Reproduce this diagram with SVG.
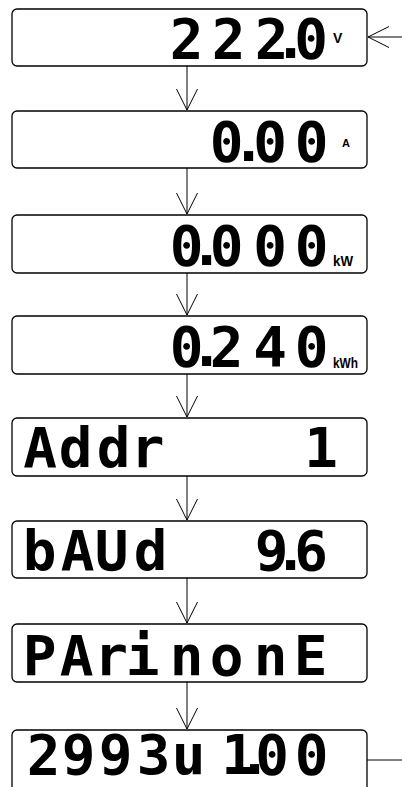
<svg xmlns="http://www.w3.org/2000/svg" width="402" height="787" viewBox="0 0 402 787">
<defs>
<marker id="v" markerUnits="userSpaceOnUse" markerWidth="24" markerHeight="24" viewBox="-22 -12 24 24" refX="0" refY="0" orient="auto">
<path d="M-21,-10.5 L0,0 L-21,10.5" fill="none" stroke="#000" stroke-width="1"/>
</marker>
</defs>
<style>
.box{fill:#fff;stroke:#000;stroke-width:1.3}
.lcd{font-family:"DejaVu Sans Mono","Liberation Mono",monospace;font-weight:bold;font-size:56px;fill:#000;text-anchor:middle}
.unit{font-family:"Liberation Sans","DejaVu Sans",sans-serif;font-weight:bold;fill:#000}
.c{fill:none;stroke:#000;stroke-width:1}
</style>
<g id="connectors">
<path class="c" d="M402,37 H368" marker-end="url(#v)"/>
<path class="c" d="M187,66 V110" marker-end="url(#v)"/>
<path class="c" d="M187,168 V214" marker-end="url(#v)"/>
<path class="c" d="M187,273 V315" marker-end="url(#v)"/>
<path class="c" d="M187,374 V417" marker-end="url(#v)"/>
<path class="c" d="M187,476 V520" marker-end="url(#v)"/>
<path class="c" d="M187,578 V623" marker-end="url(#v)"/>
<path class="c" d="M187,682 V729" marker-end="url(#v)"/>
<path class="c" d="M367,760 H402"/>
</g>
<g id="voltage">
<rect class="box" x="12" y="9" width="355" height="57" rx="5"/>
<text class="lcd" x="186.5 228.5 271.5 290.5 311" y="58">222.0</text>
<text class="unit" x="333" y="43" font-size="14">V</text>
</g>
<g id="current">
<rect class="box" x="12" y="111" width="355" height="57" rx="5"/>
<text class="lcd" x="226.5 248.5 270 311.5" y="161">0.00</text>
<text class="unit" x="342" y="147" font-size="11">A</text>
</g>
<g id="power">
<rect class="box" x="12" y="215" width="355" height="58" rx="5"/>
<text class="lcd" x="186.5 206.5 226.5 270 311.5" y="264.5">0.000</text>
<text class="unit" x="333" y="266" font-size="14" textLength="20" lengthAdjust="spacingAndGlyphs">kW</text>
</g>
<g id="energy">
<rect class="box" x="12" y="316" width="355" height="58" rx="5"/>
<text class="lcd" x="186.5 206.5 226.5 270 311.5" y="366">0.240</text>
<text class="unit" x="333" y="368" font-size="14" textLength="25" lengthAdjust="spacingAndGlyphs">kWh</text>
</g>
<g id="address">
<rect class="box" x="12" y="418" width="355" height="58" rx="5"/>
<text class="lcd" x="40 75.5 113.5 147.5" y="467">Addr</text>
<text class="lcd" x="321" y="467">1</text>
</g>
<g id="baud">
<rect class="box" x="12" y="521" width="355" height="57" rx="5"/>
<text class="lcd" x="39.5 77.5 111.5 150.5" y="570">bAUd</text>
<text class="lcd" x="271.5 290.5 311" y="570">9.6</text>
</g>
<g id="parity">
<rect class="box" x="12" y="624" width="355" height="58" rx="5"/>
<text class="lcd" x="39.5 76.5 111 142.5" y="675">PAri</text>
<text class="lcd" x="186.5 226.5 270.5 310.5" y="675">nonE</text>
</g>
<g id="version">
<rect class="box" x="12" y="730" width="355" height="62" rx="5"/>
<text class="lcd" x="43.5 78.5 115.5 153.5 188.5" y="774" font-size="54">2993u</text>
<text class="lcd" x="238 254.5 272 311.5" y="774" font-size="54">1.00</text>
</g>
</svg>
